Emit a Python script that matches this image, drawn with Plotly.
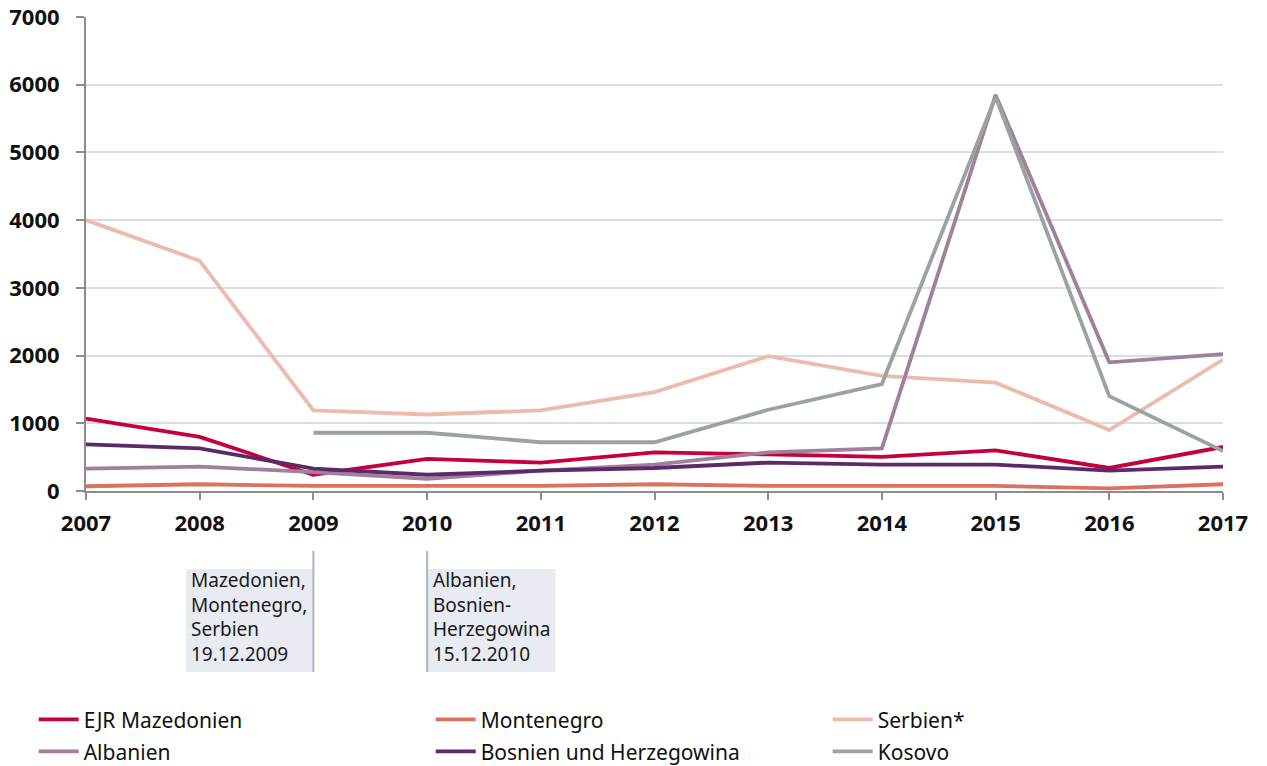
import plotly.graph_objects as go

# Jahre und Werte
years = [2007, 2008, 2009, 2010, 2011, 2012, 2013, 2014, 2015, 2016, 2017]

mazedonien = [1070, 800, 240, 475, 420, 570, 540, 505, 600, 340, 650]
montenegro = [70, 100, 75, 75, 75, 100, 75, 75, 75, 40, 100]
serbien = [4000, 3400, 1190, 1130, 1190, 1460, 1990, 1700, 1600, 900, 1940]
albanien = [330, 360, 280, 180, 300, 390, 570, 630, 5850, 1900, 2020]
bosnien = [690, 630, 330, 240, 300, 340, 420, 390, 390, 300, 360]
kosovo = [None, None, 860, 860, 720, 720, 1200, 1580, 5820, 1400, 590]

series_names = ["EJR Mazedonien", "Montenegro", "Serbien*", "Albanien",
                "Bosnien und Herzegowina", "Kosovo"]
series_values = [mazedonien, montenegro, serbien, albanien, bosnien, kosovo]
colors = ["#C6003D", "#D97262", "#EDBBAE", "#A0809A", "#5C2A6B", "#9BA2A3"]

# Visa-Liberalisierung
note_years = [2009, 2010]
note_texts = [
    "Mazedonien,<br>Montenegro,<br>Serbien<br>19.12.2009",
    "Albanien,<br>Bosnien-<br>Herzegowina<br>15.12.2010",
]

fig = go.Figure()
for i, (name, vals, col) in enumerate(zip(series_names, series_values, colors)):
    fig.add_trace(go.Scatter(
        x=years, y=vals, name=name, mode="lines",
        line=dict(color=col, width=3.8),
        connectgaps=False,
        legend="legend" if i < 3 else "legend2",
    ))

# Hinweisboxen unter der x-Achse
box_fill = "#E8EBF2"
line_col = "#A9B6C2"
# box 1 links von 2009, box 2 rechts von 2010
fig.add_shape(type="rect", xref="x", yref="paper",
              x0=note_years[0] - 1.12, x1=note_years[0], y0=-0.1646, y1=-0.3819,
              fillcolor=box_fill, line_width=0, layer="below")
fig.add_shape(type="rect", xref="x", yref="paper",
              x0=note_years[1], x1=note_years[1] + 1.13, y0=-0.1646, y1=-0.3819,
              fillcolor=box_fill, line_width=0, layer="below")
for yr in note_years:
    fig.add_shape(type="line", xref="x", yref="paper",
                  x0=yr, x1=yr, y0=-0.1266, y1=-0.3819,
                  line=dict(color=line_col, width=2))

fig.add_annotation(x=note_years[0] - 1.09, y=-0.157, xref="x", yref="paper",
                   text=note_texts[0], showarrow=False, align="left",
                   xanchor="left", yanchor="top",
                   font=dict(size=19, color="#1a1a1a"))
fig.add_annotation(x=note_years[1] + 0.03, y=-0.157, xref="x", yref="paper",
                   text=note_texts[1], showarrow=False, align="left",
                   xanchor="left", yanchor="top",
                   font=dict(size=19, color="#1a1a1a"))

legend_style = dict(
    orientation="h",
    x=-0.046, xanchor="left",
    yanchor="top",
    entrywidth=342, entrywidthmode="pixels",
    font=dict(size=21, color="#111111"),
    itemwidth=40,
    bgcolor="rgba(0,0,0,0)",
)

axis_col = "#8C8C8C"
fig.update_layout(
    width=1267, height=766,
    margin=dict(l=86, r=44, t=17, b=275, autoexpand=False),
    plot_bgcolor="white",
    paper_bgcolor="white",
    font=dict(family="Noto Sans, sans-serif", color="#111111"),
    showlegend=True,
    legend=dict(legend_style, y=-0.4395),
    legend2=dict(legend_style, y=-0.507),
    xaxis=dict(
        range=[2007, 2017],
        tickmode="array", tickvals=years,
        showgrid=False, zeroline=False,
        showline=True, linecolor=axis_col, linewidth=2,
        ticks="outside", ticklen=7, tickwidth=2, tickcolor=axis_col,
        tickfont=dict(size=22, family="Noto Sans, sans-serif", weight="bold", color="#111111"),
        ticklabelstandoff=5,
    ),
    yaxis=dict(
        range=[0, 7000],
        tickmode="linear", dtick=1000,
        showgrid=True, gridcolor="#D9DEE3", gridwidth=1.5,
        zeroline=False,
        showline=True, linecolor=axis_col, linewidth=2,
        ticks="outside", ticklen=8, tickwidth=2, tickcolor=axis_col,
        tickfont=dict(size=22, family="Noto Sans, sans-serif", weight="bold", color="#111111"),
        ticklabelstandoff=12,
    ),
)

# Browser-Standardrand der Seite entfernen, keine Werkzeugleiste
fig.write_html("out.html", config={"displayModeBar": False},
               post_script="document.body.style.margin = '0';")
